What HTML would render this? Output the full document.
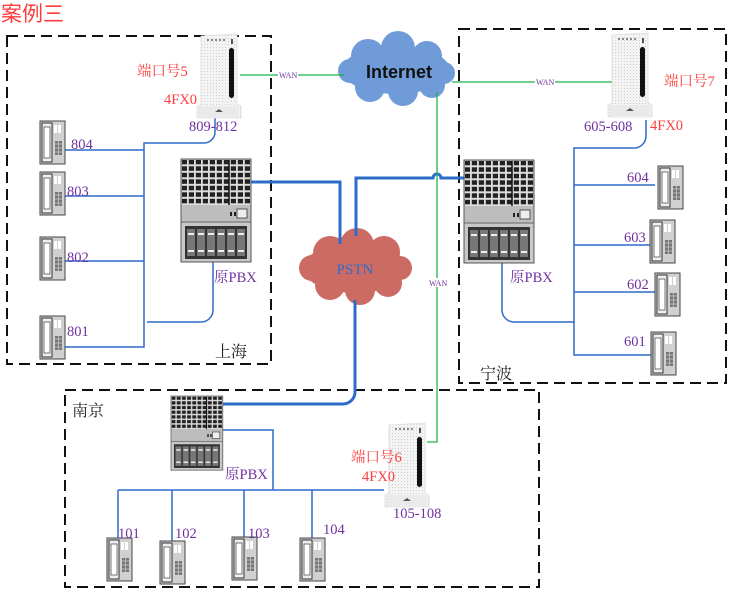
<!DOCTYPE html>
<html><head><meta charset="utf-8">
<style>
html,body{margin:0;padding:0;background:#fff;}
svg{display:block;}
text{font-family:"Liberation Serif","Noto Serif CJK SC","Noto Sans CJK SC",serif;}
.pu{fill:#7030a0;font-size:14.5px;}
.rd{fill:#ff3b3b;font-size:14.5px;}
.bk{fill:#222;font-size:16px;}
</style></head>
<body>
<svg width="730" height="595" viewBox="0 0 730 595" xmlns="http://www.w3.org/2000/svg">
<defs>
  <pattern id="grid" width="7" height="6.5" patternUnits="userSpaceOnUse">
    <rect width="7" height="6.5" fill="#ddd"/>
    <rect x="0.8" y="0.8" width="5.2" height="4.5" fill="#222"/>
  </pattern>
  <pattern id="dots" width="3" height="3" patternUnits="userSpaceOnUse">
    <rect width="3" height="3" fill="#f4f4f4"/>
    <rect x="1" y="1" width="1" height="1" fill="#cfcfcf"/>
  </pattern>
  <g id="pbx">
    <rect x="0" y="0" width="70" height="103" fill="#c8c8c8" stroke="#555" stroke-width="1"/>
    <rect x="1" y="1" width="68" height="45" fill="url(#grid)"/>
    <line x1="48" y1="1" x2="48" y2="62" stroke="#111" stroke-width="1.5"/>
    <rect x="1" y="46" width="68" height="17" fill="#bdbdbd"/>
    <line x1="0" y1="63" x2="70" y2="63" stroke="#666"/>
    <rect x="56" y="50" width="10" height="9" fill="#eee" stroke="#333" stroke-width="0.8"/>
    <rect x="49" y="53" width="2" height="4" fill="#222"/><rect x="53" y="53" width="2" height="4" fill="#222"/>
    <rect x="4" y="67" width="62" height="33" fill="#333"/>
    <g fill="#777">
      <rect x="6" y="70" width="8" height="27"/><rect x="16" y="70" width="8" height="27"/>
      <rect x="26" y="70" width="8" height="27"/><rect x="36" y="70" width="8" height="27"/>
      <rect x="46" y="70" width="8" height="27"/><rect x="56" y="70" width="8" height="27"/>
    </g>
    <g fill="#eee">
      <rect x="7" y="74" width="6" height="2"/><rect x="17" y="74" width="6" height="2"/>
      <rect x="27" y="74" width="6" height="2"/><rect x="37" y="74" width="6" height="2"/>
      <rect x="47" y="74" width="6" height="2"/><rect x="57" y="74" width="6" height="2"/>
      <rect x="7" y="91" width="6" height="2"/><rect x="17" y="91" width="6" height="2"/>
      <rect x="27" y="91" width="6" height="2"/><rect x="37" y="91" width="6" height="2"/>
      <rect x="47" y="91" width="6" height="2"/><rect x="57" y="91" width="6" height="2"/>
    </g>
  </g>
  <g id="gw">
    <path d="M4 2 L40 0 L40 70 L44 72 L44 84 L0 84 L0 72 L4 70 Z" fill="url(#dots)" stroke="#ddd" stroke-width="0.8"/>
    <rect x="32" y="14" width="5" height="50" rx="2.5" fill="#111"/>
    <g fill="#888"><rect x="10" y="5" width="2" height="2"/><rect x="14" y="5" width="2" height="2"/><rect x="18" y="5" width="2" height="2"/><rect x="22" y="5" width="2" height="2"/><rect x="26" y="5" width="2" height="2"/></g>
    <rect x="34" y="5" width="2" height="5" fill="#555"/>
    <rect x="2" y="72" width="40" height="11" fill="#eaeaea"/>
    <path d="M18 78 l4 -3 l4 3 z" fill="#555"/>
  </g>
  <g id="ph">
    <rect x="0" y="0" width="25" height="43" fill="#d0d0d0" stroke="#444" stroke-width="1"/>
    <rect x="2" y="2" width="10" height="39" fill="#eee" stroke="#333" stroke-width="1"/>
    <rect x="4" y="6" width="6" height="31" fill="#fff" stroke="#555" stroke-width="0.8"/>
    <rect x="14" y="4" width="3" height="8" fill="#fff"/><rect x="18" y="4" width="3" height="8" fill="#fff"/>
    <g fill="#777"><rect x="15" y="20" width="7" height="14"/></g>
    <g stroke="#ddd" stroke-width="0.6"><line x1="15" y1="23" x2="22" y2="23"/><line x1="15" y1="27" x2="22" y2="27"/><line x1="15" y1="31" x2="22" y2="31"/><line x1="18.5" y1="20" x2="18.5" y2="34"/></g>
  </g>
</defs>

<text x="1" y="21" style="fill:#ff3b3b;font-size:21px;font-family:'Liberation Sans','Noto Sans CJK SC',sans-serif">案例三</text>

<g fill="none" stroke="#111" stroke-width="2" stroke-dasharray="11,6">
  <rect x="7" y="36" width="264" height="328"/>
  <rect x="459" y="29" width="267" height="354"/>
  <rect x="65" y="390" width="474" height="197"/>
</g>

<g fill="#6f9bd9">
  <ellipse cx="396" cy="70" rx="54" ry="24"/>
  <circle cx="368" cy="56" r="17"/><circle cx="398" cy="48" r="17"/><circle cx="427" cy="56" r="15"/>
  <circle cx="350" cy="71" r="12"/><circle cx="444" cy="73" r="11"/>
  <circle cx="370" cy="87" r="15"/><circle cx="403" cy="91" r="15"/><circle cx="432" cy="85" r="13"/>
</g>
<text x="399" y="78" text-anchor="middle" style="font-family:'Liberation Sans',sans-serif;font-weight:bold;font-size:18px;fill:#111">Internet</text>
<g fill="#cc6b63">
  <ellipse cx="355" cy="268" rx="52" ry="25"/>
  <circle cx="330" cy="253" r="17"/><circle cx="357" cy="245" r="17"/><circle cx="384" cy="252" r="16"/>
  <circle cx="312" cy="268" r="13"/><circle cx="400" cy="268" r="12"/>
  <circle cx="330" cy="285" r="15"/><circle cx="360" cy="290" r="15"/><circle cx="388" cy="283" r="14"/>
</g>
<text x="355" y="274" text-anchor="middle" style="fill:#2e6cc9;font-size:15px">PSTN</text>

<g fill="none" stroke="#2e6cc9" stroke-width="3">
  <path d="M251 182 H340 V244"/>
  <path d="M356 236 V178 H433 a4 4 0 0 1 8 0 H466"/>
  <path d="M355 300 V392 a12 12 0 0 1 -12 12 H222"/>
</g>

<g fill="none" stroke="#1fb34a" stroke-width="1.3">
  <path d="M240 75 H344"/>
  <path d="M452 82 H612"/>
  <path d="M437 92 V442 H427"/>
</g>
<g style="font-size:8px;fill:#7030a0;font-family:'Liberation Serif',serif">
  <rect x="278" y="70" width="20" height="9" fill="#fff"/><text x="279" y="78">WAN</text>
  <rect x="535" y="77" width="20" height="9" fill="#fff"/><text x="536" y="85">WAN</text>
  <rect x="428" y="278" width="20" height="9" fill="#fff"/><text x="429" y="286">WAN</text>
</g>

<g fill="none" stroke="#2e6cc9" stroke-width="1.5">
  <path d="M215 118 V132 a11 11 0 0 1 -11 11 H144 V347 H63"/>
  <path d="M65 150 H144 M65 196 H144 M65 261 H144"/>
  <path d="M213 262 V310 a12 12 0 0 1 -12 12 H147"/>
  <path d="M646 120 V136 a12 12 0 0 1 -12 12 H574 V355 H652"/>
  <path d="M574 185 H655 M574 245 H651 M574 292 H656"/>
  <path d="M502 262 V310 a12 12 0 0 0 12 12 H574"/>
  <path d="M222 430 H273 V490"/>
  <path d="M118 490 H384"/>
  <path d="M118 490 V540 M172 490 V542 M244 490 V539 M312 490 V539"/>
</g>

<use href="#pbx" x="181" y="159"/>
<use href="#pbx" x="464" y="160"/>
<use href="#pbx" transform="translate(171 396) scale(0.74 0.72)"/>

<use href="#gw" x="197" y="34"/>
<use href="#gw" x="608" y="33"/>
<use href="#gw" x="385" y="423"/>

<use href="#ph" x="40" y="121"/>
<use href="#ph" x="40" y="172"/>
<use href="#ph" x="40" y="237"/>
<use href="#ph" x="40" y="316"/>

<use href="#ph" x="658" y="166"/>
<use href="#ph" x="650" y="220"/>
<use href="#ph" x="655" y="273"/>
<use href="#ph" x="651" y="332"/>

<use href="#ph" x="107" y="538"/>
<use href="#ph" x="160" y="541"/>
<use href="#ph" x="232" y="537"/>
<use href="#ph" x="300" y="538"/>

<text class="rd" x="137" y="76">端口号5</text>
<text class="rd" x="164" y="104">4FX0</text>
<text class="pu" x="189" y="131">809-812</text>
<text class="pu" x="71" y="149">804</text>
<text class="pu" x="67" y="196">803</text>
<text class="pu" x="67" y="262">802</text>
<text class="pu" x="67" y="336">801</text>
<text class="pu" x="214" y="282">原PBX</text>
<text class="bk" x="215" y="357">上海</text>

<text class="rd" x="664" y="86">端口号7</text>
<text class="rd" x="650" y="130">4FX0</text>
<text class="pu" x="584" y="131">605-608</text>
<text class="pu" x="627" y="182">604</text>
<text class="pu" x="624" y="242">603</text>
<text class="pu" x="627" y="289">602</text>
<text class="pu" x="624" y="346">601</text>
<text class="pu" x="510" y="282">原PBX</text>
<text class="bk" x="480" y="379">宁波</text>

<text class="bk" x="72" y="416">南京</text>
<text class="pu" x="225" y="479">原PBX</text>
<text class="rd" x="351" y="462">端口号6</text>
<text class="rd" x="362" y="481">4FX0</text>
<text class="pu" x="393" y="518">105-108</text>
<text class="pu" x="118" y="538">101</text>
<text class="pu" x="175" y="538">102</text>
<text class="pu" x="248" y="538">103</text>
<text class="pu" x="323" y="534">104</text>
</svg>
</body></html>
